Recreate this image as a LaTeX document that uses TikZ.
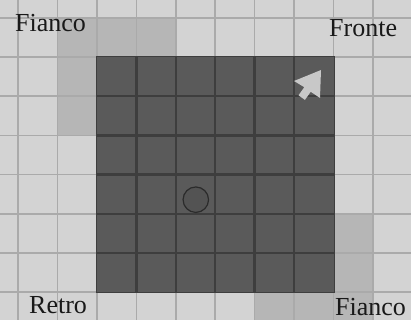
\documentclass[tikz,border=0pt]{standalone}
\usepackage{fontspec}
\setmainfont{Liberation Serif}
\definecolor{paper}{RGB}{211,211,211}
\definecolor{paperline}{RGB}{170,170,170}
\definecolor{flank}{RGB}{182,182,182}
\definecolor{zone}{RGB}{90,90,90}
\definecolor{zoneline}{RGB}{62,62,62}
\definecolor{pointer}{RGB}{200,200,200}
\definecolor{ink}{RGB}{25,25,25}
\tikzset{
  label/.style={font=\fontsize{26}{30}\selectfont, text=ink, inner sep=0pt},
  papergrid/.style={draw=paperline, line width=1.6pt},
  zonegrid/.style={draw=zoneline, line width=2.4pt},
}
\begin{document}
\begin{tikzpicture}[x=1pt,y=-1pt]
\useasboundingbox (0,0) rectangle (411,320);
\fill[paper] (0,0) rectangle (411,320);
% flank areas
\fill[flank] (57.6,17.8) -| (175.8,57) -| (97,135.4) -| cycle;
\fill[flank] (254.6,331.4) |- (333.4,292.2) |- (372.8,213.8) |- cycle;
% paper grid
\foreach \x in {18.2,57.6,97,136.4,175.8,215.2,254.6,294,333.4,372.8,412.2}
  \draw[papergrid] (\x,0) -- (\x,320);
\foreach \y in {17.8,57,96.2,135.4,174.6,213.8,253,292.2,331.4}
  \draw[papergrid] (0,\y) -- (411,\y);
% zone of control
\fill[zone] (96,56) rectangle (335,293);
\foreach \x in {136.4,175.8,215.2,254.6,294}
  \draw[zonegrid] (\x,56) -- (\x,293);
\foreach \y in {96.2,135.4,174.6,213.8,253}
  \draw[zonegrid] (96,\y) -- (335,\y);
\draw[draw=zoneline, line width=1.5pt] (96.7,56.7) rectangle (334.3,292.3);
% unit
\node[circle, draw=zoneline!70!black, line width=1.2pt, fill=zone!92!black, minimum size=25.5pt, inner sep=0pt] (unit) at (195.8,199.7) {};
% facing arrow
\fill[pointer] (321,70) -- (294,81) -- (304.3,87.2) -- (298.5,95.3) -- (304.9,99.9) -- (310.7,91.8) -- (320,98) -- cycle;
% labels
\node[label, anchor=base west] (fianco1) at (15,32) {Fianco};
\node[label, anchor=base west] (fronte) at (329,37) {Fronte};
\node[label, anchor=base west] (retro) at (29,313) {Retro};
\node[label, anchor=base west] (fianco2) at (335,315.5) {Fianco};
\end{tikzpicture}
\end{document}
